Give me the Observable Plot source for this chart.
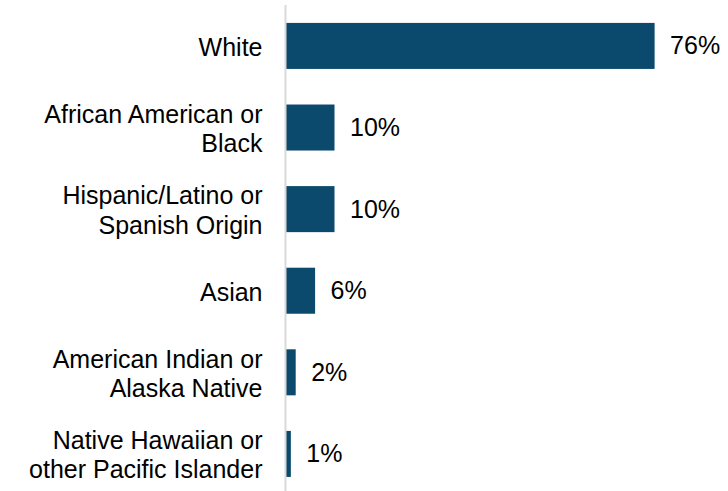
<!DOCTYPE html>
<html><head><meta charset="utf-8">
<script src="https://cdn.jsdelivr.net/npm/d3@7"></script>
<script src="https://cdn.jsdelivr.net/npm/@observablehq/plot@0.6"></script>
<style>body{margin:0;background:#fff;font-family:"Liberation Sans",Arial,sans-serif}</style>
</head><body><div id="chart"></div>
<script>
const categories = ["White","African American or\nBlack","Hispanic/Latino or\nSpanish Origin","Asian","American Indian or\nAlaska Native","Native Hawaiian or\nother Pacific Islander"];
const values = [76, 10, 10, 6, 2, 1];
const data = categories.map((c, i) => ({cat: c, value: values[i]}));
const chart = Plot.plot({
  width: 728, height: 491,
  marginLeft: 286, marginRight: 54, marginTop: 5, marginBottom: 0,
  style: {fontFamily: '"Liberation Sans", Arial, sans-serif', background: "#fff"},
  x: {domain: [0, 80], axis: null},
  y: {domain: categories, axis: null, round: false, paddingInner: 0.436, paddingOuter: 0.196, align: 0.56},
  marks: [
    Plot.barX(data, {y: "cat", x: "value", fill: "#0b4a6c"}),
    Plot.ruleX([0], {stroke: "#d9d9d9", strokeWidth: 2, dx: -1}),
    Plot.text(data, {y: "cat", x: 0, text: "cat", textAnchor: "end", dx: -24, fontSize: 25, lineHeight: 1.17, fill: "#000"}),
    Plot.text(data, {y: "cat", x: "value", text: d => d.value + "%", textAnchor: "start", dx: 15, fontSize: 25, fill: "#000"})
  ]
});
document.getElementById("chart").appendChild(chart);
</script></body></html>
